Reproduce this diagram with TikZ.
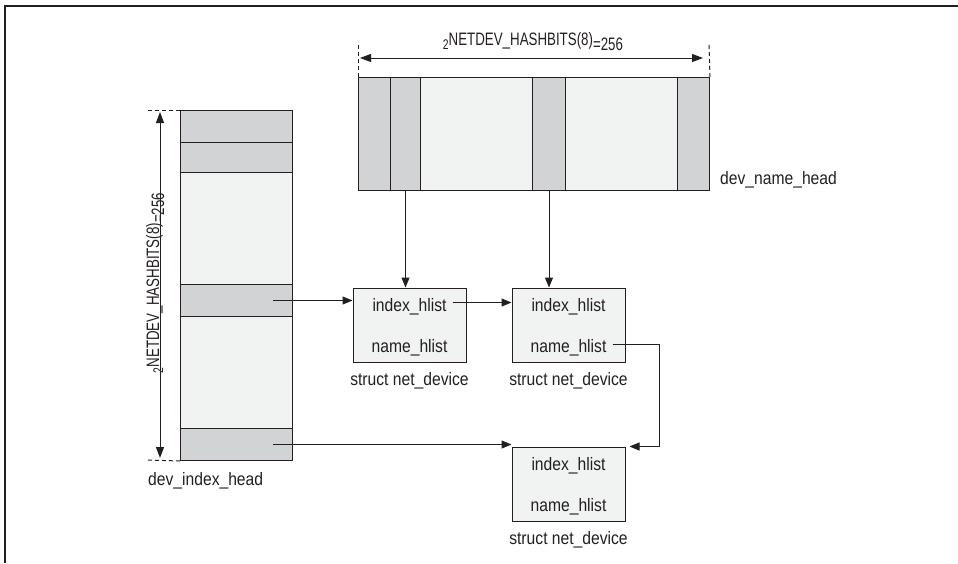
\documentclass[tikz,border=0pt]{standalone}
\usepackage{fontspec}
\setmainfont{Liberation Sans}[FakeStretch=0.87]
\newfontfamily\dimfont{Liberation Sans}[FakeStretch=0.74]
\usetikzlibrary{arrows.meta,positioning,calc}
\definecolor{hdark}{HTML}{D1D3D4}
\definecolor{hlight}{HTML}{F1F2F2}
\definecolor{ink}{HTML}{231F20}
\tikzset{
  flowarrow/.style={-{Triangle[length=10pt,width=8pt]}, line width=1pt, draw=ink},
  dimarrow/.style={{Triangle[length=11pt,width=8pt]}-{Triangle[length=11pt,width=8pt]}, line width=1pt, draw=ink},
  dimtick/.style={draw=ink, line width=1pt, dash pattern=on 4pt off 3pt},
  cell/.style={draw=ink, line width=1pt, inner sep=0pt, anchor=north west},
  devbox/.style={draw=ink, line width=1pt, fill=hlight, inner sep=0pt,
    minimum width=113pt, minimum height=74pt},
  field/.style={font=\fontsize{18}{19}\selectfont, text=ink, inner sep=1pt},
  caption/.style={font=\fontsize{18}{19}\selectfont, text=ink, inner sep=0pt},
  dimlabel/.style={font=\dimfont\fontsize{18}{19}\selectfont, text=ink, inner sep=0pt, anchor=base}
}
\newcommand{\hashsize}{\raisebox{-4pt}{\fontsize{14}{15}\selectfont 2}NETDEV\_HASHBITS(8)\raisebox{-5pt}{=256}}

\begin{document}
\begin{tikzpicture}[x=1pt, y=-1pt]
    \useasboundingbox (0,0) rectangle (958,563);
    \draw[ink, line width=2pt] (958,5.5) -- (4.5,5.5) -- (4.5,563);

    % dev_name_head buckets
    \foreach \n/\a/\b/\c in {n0/358/390/hdark, n1/390/420/hdark, n2/420/532/hlight,
                             n3/532/565/hdark, n4/565/677/hlight, n5/677/709/hdark}
        \node[cell, fill=\c, minimum width=\b pt-\a pt, minimum height=113pt] (\n) at (\a,77) {};
    \node[caption, anchor=base west] (nlab) at ($(n5.south east)+(10,-7)$) {dev\_name\_head};

    % dev_index_head buckets
    \foreach \n/\a/\b/\c in {i0/110/142/hdark, i1/142/172/hdark, i2/172/284/hlight,
                             i3/284/316/hdark, i4/316/428/hlight, i5/428/460/hdark}
        \node[cell, fill=\c, minimum width=112pt, minimum height=\b pt-\a pt] (\n) at (180,\a) {};
    \node[caption, anchor=base west] (ilab) at ($(i5.south west)+(-32,24)$) {dev\_index\_head};

    % table sizes
    \coordinate (wl) at (358,45);
    \coordinate (wr) at (709,45);
    \draw[dimtick] (wl) -- (n0.north west);
    \draw[dimtick] (wr) -- (n5.north east);
    \draw[dimarrow] ($(wl)+(2,13)$) -- ($(wr)+(-6,13)$);
    \node[dimlabel] (wlab) at (533,45) {\hashsize};

    \coordinate (ht) at (148,110);
    \coordinate (hb) at (148,460);
    \draw[dimtick] (ht) -- (i0.north west);
    \draw[dimtick] (hb) -- (i5.south west);
    \draw[dimarrow] ($(ht)+(12,2)$) -- ($(hb)+(12,-2)$);
    \node[dimlabel, rotate=90] (hlab) at (159,283) {\hashsize};

    % net_device structures
    \node[devbox] (d1) at (409.5,325) {};
    \node[devbox, right=45pt of d1] (d2) {};
    \node[devbox, below=84pt of d2] (d3) {};
    \foreach \d in {d1,d2,d3} {
        \node[field, anchor=base] (\d-i) at ($(\d.north)+(0,24)$) {index\_hlist};
        \node[field, anchor=base] (\d-n) at ($(\d.north)+(0,65)$) {name\_hlist};
        \node[caption, anchor=base] (\d-c) at ($(\d.south)+(0,23)$) {struct net\_device};
    }

    % links
    \draw[flowarrow] (n1.south) -- (n1.south |- d1.north);
    \draw[flowarrow] (n3.south) -- (n3.south |- d2.north);
    \draw[flowarrow] ([xshift=-20pt]i3.east) -- (i3 -| d1.west);
    \draw[flowarrow] ([xshift=-20pt]i5.east) -- (i5 -| d3.west);
    \coordinate (a1) at ([shift={(5,-9)}]d1-i.base east);
    \draw[flowarrow] (a1) -- (a1 -| d2.west);
    \coordinate (a2) at ([shift={(5,-8)}]d2-n.base east);
    \draw[flowarrow, shorten >=4pt] (a2) -| ($(d3.north east)+(34,0)$) -- (d3.north east);
\end{tikzpicture}
\end{document}
